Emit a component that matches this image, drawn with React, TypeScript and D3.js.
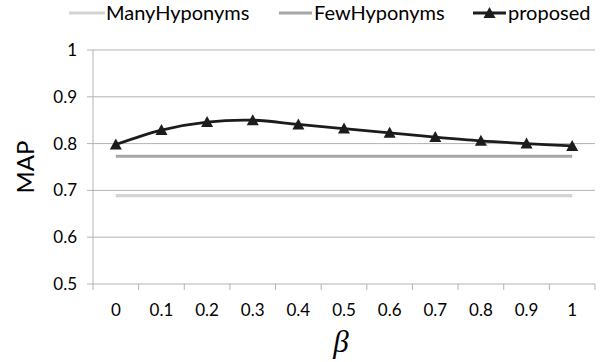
import * as d3 from "d3";

const betas = ["0", "0.1", "0.2", "0.3", "0.4", "0.5", "0.6", "0.7", "0.8", "0.9", "1"];
const proposed = [0.798, 0.829, 0.846, 0.85, 0.841, 0.832, 0.823, 0.814, 0.806, 0.8, 0.795];
const fewHyponyms = [0.773, 0.773, 0.773, 0.773, 0.773, 0.773, 0.773, 0.773, 0.773, 0.773, 0.773];
const manyHyponyms = [0.689, 0.689, 0.689, 0.689, 0.689, 0.689, 0.689, 0.689, 0.689, 0.689, 0.689];
const yTicks = [0.5, 0.6, 0.7, 0.8, 0.9, 1];

const font = "Lato, 'Open Sans', sans-serif";

// triangle marker path centred on 0,0
const tri = "M0,-6L6,5L-6,5Z";

export default function App() {
  const W = 608;
  const H = 362;
  const left = 93;
  const right = 595;
  const top = 50;
  const bottom = 284;

  const x = d3.scaleBand().domain(betas).range([left, right]);
  const y = d3.scaleLinear().domain([0.5, 1]).range([bottom, top]);
  const cx = (b: string) => (x(b) as number) + x.bandwidth() / 2;

  const smooth = d3
    .line<number>()
    .x((_, i) => cx(betas[i]))
    .y((d) => y(d))
    .curve(d3.curveCatmullRom.alpha(0.5));
  const straight = d3
    .line<number>()
    .x((_, i) => cx(betas[i]))
    .y((d) => y(d));

  const axisCol = "#b3b3b3";

  return (
    <svg
      width={W}
      height={H}
      style={{ position: "absolute", left: 0, top: 0, background: "#fff" }}
      fontFamily={font}
    >
      {/* grid + y ticks */}
      {yTicks.map((t) => (
        <g key={t}>
          <line x1={left - 6} x2={right} y1={y(t)} y2={y(t)} stroke={axisCol} strokeWidth={1} />
          <text x={77} y={y(t)} dy="0.35em" textAnchor="end" fontSize={17} fill="#000">
            {t}
          </text>
        </g>
      ))}
      <line x1={left} x2={left} y1={top} y2={bottom + 6} stroke={axisCol} />
      {/* x ticks */}
      {betas.map((b) => (
        <line
          key={"t" + b}
          x1={(x(b) as number) + x.bandwidth()}
          x2={(x(b) as number) + x.bandwidth()}
          y1={bottom}
          y2={bottom + 6}
          stroke={axisCol}
        />
      ))}
      {betas.map((b) => (
        <text key={"l" + b} x={cx(b)} y={310} dy="0.35em" textAnchor="middle" fontSize={17}>
          {b}
        </text>
      ))}

      {/* series */}
      <path d={straight(manyHyponyms) ?? ""} fill="none" stroke="#d4d4d4" strokeWidth={3.2} />
      <path d={straight(fewHyponyms) ?? ""} fill="none" stroke="#a6a6a6" strokeWidth={3.2} />
      <path d={smooth(proposed) ?? ""} fill="none" stroke="#1c1c1c" strokeWidth={2.8} />
      {proposed.map((v, i) => (
        <path key={"m" + i} d={tri} transform={`translate(${cx(betas[i])},${y(v)})`} fill="#1c1c1c" />
      ))}

      {/* axis titles */}
      <text
        transform={`translate(26,${(top + bottom) / 2}) rotate(-90)`}
        textAnchor="middle"
        dy="0.35em"
        fontSize={24}
      >
        MAP
      </text>
      <text
        x={341}
        y={343}
        dy="0.3em"
        textAnchor="middle"
        fontSize={31}
        fontStyle="italic"
        fontFamily="'Liberation Serif', serif"
      >
        β
      </text>

      {/* legend */}
      <g fontSize={20}>
        <line x1={69} x2={105} y1={13} y2={13} stroke="#d4d4d4" strokeWidth={3.2} />
        <text x={106} y={13} dy="0.35em">ManyHyponyms</text>
        <line x1={279} x2={312} y1={13} y2={13} stroke="#a6a6a6" strokeWidth={3.2} />
        <text x={314} y={13} dy="0.35em">FewHyponyms</text>
        <line x1={473} x2={506} y1={13} y2={13} stroke="#1c1c1c" strokeWidth={2.8} />
        <path d={tri} transform="translate(489.5,13)" fill="#1c1c1c" />
        <text x={508} y={13} dy="0.35em">proposed</text>
      </g>
    </svg>
  );
}
